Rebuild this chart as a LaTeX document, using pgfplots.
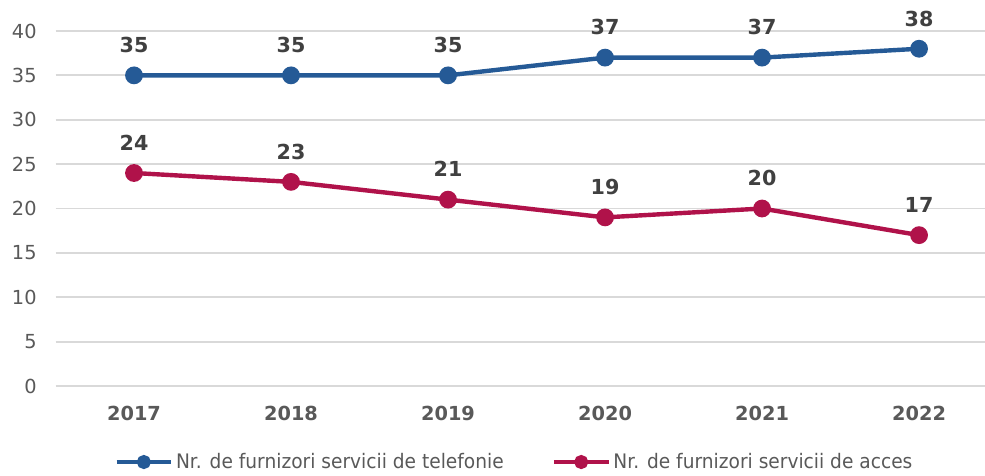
\documentclass[border=0pt]{standalone}
\usepackage{pgfplots}
\pgfplotsset{compat=1.18}
\usepackage{fontspec}
\setmainfont{DejaVu Sans}
\newfontfamily\legfont[FakeStretch=0.93]{DejaVu Sans}
\definecolor{cblue}{HTML}{255A96}
\definecolor{cred}{HTML}{B0124A}
\definecolor{cgrid}{HTML}{D9D9D9}
\definecolor{ctick}{HTML}{595959}
\definecolor{clab}{HTML}{404040}
\begin{document}
\begin{tikzpicture}
\begin{axis}[
  scale only axis,
  width=697pt, height=266.25pt,
  xmin=-0.5, xmax=5.42, ymin=0, ymax=40,
  ytick={0,5,...,40},
  xtick={0,1,2,3,4,5},
  xticklabels={2017,2018,2019,2020,2021,2022},
  axis line style={draw=none},
  major tick length=0pt,
  ymajorgrids, grid style={cgrid, line width=1.3pt},
  /pgf/number format/assume math mode=true,
  yticklabel style={font=\fontsize{14.5}{16}\selectfont, text=ctick, anchor=east, inner sep=0pt, xshift=-14pt},
  xticklabel style={font=\fontsize{14.5}{16}\selectfont\bfseries, text=ctick, anchor=base, inner sep=0pt, yshift=-26pt},
  nodes near coords,
  nodes near coords style={font=\fontsize{15.5}{17}\selectfont\bfseries, text=clab, anchor=base, inner sep=0pt, yshift=17pt},
  clip=false,
  legend columns=2,
  legend style={draw=none, fill=none, at={(axis description cs:0.494,-0.214)}, anchor=center,
    font=\legfont\fontsize{15}{17}\selectfont, text=ctick, column sep=0pt, inner sep=0pt,
    /tikz/every even column/.append style={column sep=34pt}},
  legend image code/.code={\draw[#1, mark repeat=2, mark phase=2, mark size=3.6pt] plot coordinates {(0pt,0pt)(20.5pt,0pt)(41pt,0pt)};},
]
\addplot[cblue, line width=3.3pt, mark=*, mark size=5pt, mark options={fill=cblue, draw=none}]
  coordinates {(0,35) (1,35) (2,35) (3,37) (4,37) (5,38)};
\addlegendentry{Nr. de furnizori servicii de telefonie}
\addplot[cred, line width=3.3pt, mark=*, mark size=5pt, mark options={fill=cred, draw=none}]
  coordinates {(0,24) (1,23) (2,21) (3,19) (4,20) (5,17)};
\addlegendentry{Nr. de furnizori servicii de acces}
\coordinate (bbsw) at (axis cs:-0.8535,-10.03);
\coordinate (bbne) at (axis cs:5.42,43.49);
\end{axis}
\pgfresetboundingbox
\useasboundingbox (bbsw) rectangle (bbne);
\end{tikzpicture}
\end{document}
